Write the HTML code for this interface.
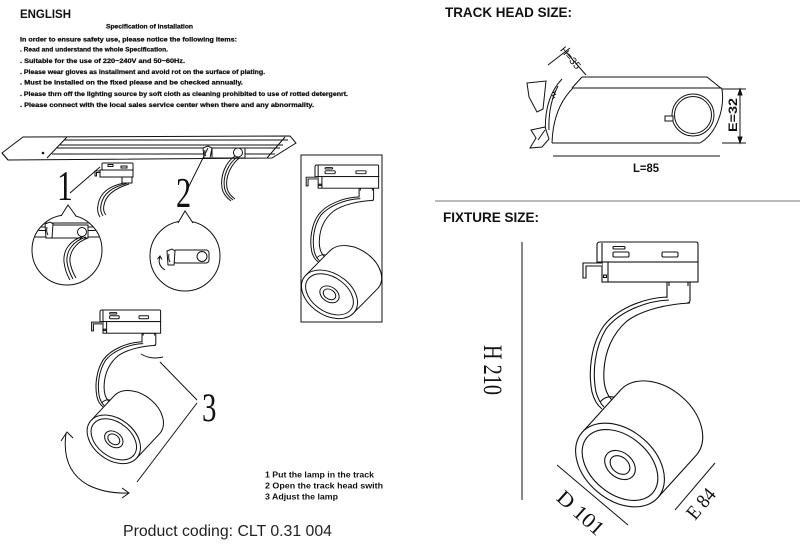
<!DOCTYPE html>
<html>
<head>
<meta charset="utf-8">
<style>
  html,body{margin:0;padding:0;background:#fff;}
  svg{display:block;}
</style>
</head>
<body>
<svg width="800" height="552" viewBox="0 0 800 552" xmlns="http://www.w3.org/2000/svg">
<defs>
  <g id="lamp" fill="none" stroke="#111">
    <!-- arm -->
    <path d="M70,55 C45,56 18,68 6,85 C-6,103 -9,130 -5,150 C-3,158 0,163 5,167" fill="none"/>
    <path d="M72,58 C47,59 21,71 9,87 C-2,105 -5,130 -1,150 C1,157 3,161 7,165" fill="none"/>
    <path d="M93,61 C70,62 45,68 30,79 C15,92 8,110 7,128 C6,142 9,152 15,158" fill="none"/>
    <!-- neck -->
    <path d="M70,40 H93 V58 Q93,61 90,61 M70,40 V56" fill="#fff"/>
    <path d="M72,40 V44 M91,40 V44"/>
    <!-- top box -->
    <path d="M3,0 H99 Q101,0 101,2 V20 H0 V3 Q0,0 3,0 Z" fill="#fff"/>
    <path d="M5,1 V20"/>
    <rect x="16" y="4.5" width="12" height="2.5" rx="1"/>
    <rect x="16" y="10" width="16" height="5" rx="1.2"/>
    <rect x="65" y="10" width="16" height="5" rx="1.2"/>
    <!-- lower box -->
    <rect x="5" y="20" width="96" height="20" fill="#fff"/>
    <path d="M11,20 V40"/>
    <rect x="6.5" y="33" width="3" height="2.5"/>
    <!-- hook -->
    <path d="M5,21 H-14 V36 H-11 V24 H5" fill="#fff"/>
    <!-- joint -->
    <path d="M3,160 Q10,152 20,156"/>
    <!-- cylinder -->
    <path d="M-14.7,190.2 L24.3,147.2 A50,35 40 0 1 99.7,212.8 L60.7,255.8 A50,35 40 0 1 -14.7,190.2 Z" fill="#fff"/>
    <ellipse cx="23" cy="223" rx="50" ry="35" transform="rotate(40 23 223)" fill="#fff"/>
    <ellipse cx="23" cy="223" rx="43" ry="29" transform="rotate(40 23 223)"/>
    <ellipse cx="23" cy="223" rx="17" ry="12.5" transform="rotate(40 23 223)"/>
    <ellipse cx="23" cy="223" rx="11" ry="8" transform="rotate(40 23 223)"/>
  </g>
  <clipPath id="c1"><circle cx="67" cy="250" r="34.5"/></clipPath>
  <clipPath id="c2"><circle cx="185" cy="256" r="34.5"/></clipPath>
</defs>

<rect width="800" height="552" fill="#fff"/>

<!-- ===== Top-left text ===== -->
<g font-family="'Liberation Sans', Arial, sans-serif" font-weight="bold" fill="#111">
  <text x="20" y="18" font-size="11.5" textLength="51" lengthAdjust="spacingAndGlyphs">ENGLISH</text>
  <g stroke="#111" stroke-width="0.25">
  <text x="106" y="28.5" font-size="6.5" textLength="87" lengthAdjust="spacingAndGlyphs">Specification of installation</text>
  <text x="20" y="41.5" font-size="6.5" textLength="217" lengthAdjust="spacingAndGlyphs">In order to ensure safety use, please notice the following items:</text>
  <text x="20" y="51.5" font-size="6.5" textLength="148" lengthAdjust="spacingAndGlyphs">. Read and understand the whole Specification.</text>
  <text x="20" y="63" font-size="6.5" textLength="165" lengthAdjust="spacingAndGlyphs">. Suitable for the use of 220~240V and 50~60Hz.</text>
  <text x="20" y="74" font-size="6.5" textLength="245" lengthAdjust="spacingAndGlyphs">. Please wear gloves as installment and avoid rot on the surface of plating.</text>
  <text x="20" y="84.5" font-size="6.5" textLength="223" lengthAdjust="spacingAndGlyphs">. Must be installed on the fixed please and be checked annually.</text>
  <text x="20" y="96" font-size="6.5" textLength="328" lengthAdjust="spacingAndGlyphs">. Please thrn off the lighting source by soft cloth as cleaning prohibited to use of rotted detergenrt.</text>
  <text x="20" y="107" font-size="6.5" textLength="294" lengthAdjust="spacingAndGlyphs">. Please connect with the local sales service center when there and any abnormality.</text>
  </g>
</g>

<!-- ===== Track ===== -->
<g fill="none" stroke="#111" stroke-width="1">
  <path d="M2,153 L23,137 L290,136 L296,143 L272,158 L8,160 Z" fill="#fff"/>
  <path d="M2,153 L8,160"/>
  <path d="M67,137 L47,158"/>
  <path d="M285,137 L267,158"/>
  <path d="M64,140 H288"/>
  <path d="M60,145 H283"/>
  <path d="M57,148 H280"/>
  <path d="M52,154 H275"/>
  <circle cx="43" cy="153" r="0.8" fill="#111"/>
  <!-- adapter 2 in track -->
  <path d="M203,148 L208,146 L212,148 L210,158 L204,158 Z" fill="#fff"/>
  <path d="M205,150 Q204,154 206,156"/>
  <rect x="212" y="148" width="33" height="10" fill="#fff"/>
  <circle cx="238" cy="152.5" r="4.5" fill="#fff"/>
  <path d="M235,156 C226,162 220,175 222,188 C223,194 227,198 231,201"/>
  <path d="M237.5,157 C228.5,163 222.5,176 224.5,188 C225.5,193 229,197 233,200"/>
  <path d="M240,157.5 C231,164 225,177 227,188 C228,193 231.5,196.5 235,199"/>
  <!-- line from 2 -->
  <path d="M188,188 L208,148"/>

  <!-- adapter 1 -->
  <rect x="102" y="163" width="31" height="7" rx="1" fill="#fff"/>
  <rect x="100" y="170" width="33" height="7" fill="#fff"/>
  <rect x="108" y="164.5" width="5" height="2" />
  <rect x="121" y="166" width="6" height="2"/>
  <path d="M100,171 H95 V176 H96.5 V172.5 H100"/>
  <rect x="122" y="177" width="10" height="6" fill="#fff"/>
  <path d="M124,183 C110,186 100,192 98,205 C97,210 98,214 100,217"/>
  <path d="M126.5,183.5 C113,187 103,193 101,205 C100,210 101,213 103,216"/>
  <path d="M129,184 C116,188 106,194 104,205 C103,210 104,212.5 106,215"/>
  <!-- line from 1 -->
  <path d="M70,193 L100,167"/>

  <!-- circle 1 -->
  <circle cx="67" cy="250" r="35" fill="#fff"/>
  <path d="M60.5,218 L68,205 L76.5,218 Z" fill="#fff" stroke="none"/>
  <path d="M61,216 L68,205 L76,216"/>
  <g clip-path="url(#c1)">
    <path d="M30,223 H105 M30,227 H105 M30,230.5 H105 M30,237 H105"/>
    <rect x="52" y="225" width="36" height="13" fill="#fff"/>
    <path d="M45,224 L50,222 L53,224 L52,238 L46,238 Z" fill="#fff"/>
    <path d="M47,227 Q46,232 48,235"/>
    <circle cx="82" cy="232" r="4.5" fill="#fff"/>
    <path d="M84,236 C70,240 63,250 64,262 C65,270 67,275 70,280"/>
    <path d="M86,237 C73,241 66,251 67,262 C68,269 70,274 73,279"/>
    <path d="M88,238 C76,242 69,252 70,262 C71,268 73,273 76,278"/>
  </g>

  <!-- circle 2 -->
  <circle cx="185" cy="256" r="35" fill="#fff"/>
  <path d="M177,224 L185,211 L194,224 Z" fill="#fff" stroke="none"/>
  <path d="M178,223 L185,211 L193,223"/>
  <g clip-path="url(#c2)">
    <rect x="173" y="250" width="36" height="13" rx="3" fill="#fff"/>
    <path d="M167,251 L172,249 L175,251 L174,265 L168,265 Z" fill="#fff"/>
    <path d="M169,254 Q168,259 170,262"/>
    <circle cx="202" cy="256.5" r="5" fill="#fff"/>
    <path d="M165,270 Q157,265 160,257"/>
    <path d="M157.5,259 L160,256 L162,259.5"/>
  </g>
</g>

<!-- numbers -->
<g font-family="'Liberation Serif', 'Times New Roman', serif" fill="#111">
  <text transform="translate(57,200) scale(0.75,1)" font-size="42">1</text>
  <text transform="translate(176,207) scale(0.72,1)" font-size="42">2</text>
  <text transform="translate(202,421) scale(0.72,1)" font-size="40">3</text>
</g>

<!-- framed lamp -->
<rect x="301" y="155" width="81" height="167" fill="none" stroke="#111" stroke-width="1"/>
<use href="#lamp" transform="translate(315,165) scale(0.63,0.58)" stroke-width="1.6"/>

<!-- bottom-left lamp -->
<use href="#lamp" transform="translate(100,310) scale(0.6,0.58)" stroke-width="1.7"/>
<g fill="none" stroke="#111" stroke-width="1">
  <path d="M197,400 L160,362"/>
  <path d="M197,403 L137,482"/>
  <path d="M141,354 Q151,360 163,357"/>
  <path d="M66,433 Q61,470 88,485 Q106,494 129,493"/>
  <path d="M61,441 L67,432 L73,438"/>
  <path d="M122,488 L129,493 L122,498"/>
</g>

<!-- instructions -->
<g font-family="'Liberation Sans', Arial, sans-serif" font-weight="bold" font-size="8" fill="#111">
  <text x="265" y="477.5" textLength="109" lengthAdjust="spacingAndGlyphs">1 Put the lamp in the track</text>
  <text x="265" y="488.5" textLength="118" lengthAdjust="spacingAndGlyphs">2 Open the track head swith</text>
  <text x="265" y="499.5" textLength="73" lengthAdjust="spacingAndGlyphs">3 Adjust the lamp</text>
</g>
<text x="123" y="536" font-family="'Liberation Sans', Arial, sans-serif" font-size="15.5" fill="#222" textLength="209" lengthAdjust="spacingAndGlyphs">Product coding: CLT 0.31 004</text>

<!-- ===== Right side ===== -->
<g font-family="'Liberation Sans', Arial, sans-serif" font-weight="bold" fill="#111">
  <text x="445" y="17" font-size="14" textLength="127" lengthAdjust="spacingAndGlyphs">TRACK HEAD SIZE:</text>
  <text x="443" y="222" font-size="14" textLength="96" lengthAdjust="spacingAndGlyphs">FIXTURE SIZE:</text>
  <text x="646" y="172" font-size="11.5" text-anchor="middle" textLength="26" lengthAdjust="spacingAndGlyphs">L=85</text>
  <text transform="translate(737,115) rotate(-90)" font-size="12" text-anchor="middle" textLength="34" lengthAdjust="spacingAndGlyphs">E=32</text>
  <text transform="translate(568,60) rotate(50)" font-size="10" text-anchor="middle" font-weight="normal" textLength="26" lengthAdjust="spacingAndGlyphs">H=35</text>
</g>
<line x1="435" y1="201" x2="800" y2="201" stroke="#777" stroke-width="1"/>

<!-- track head -->
<g fill="none" stroke="#111" stroke-width="1">
  <path d="M582,77 H707 L722,89"/>
  <path d="M573,88 H722"/>
  <path d="M722,89 C725,110 716,134 700,143"/>
  <path d="M552,143 H700"/>
  <path d="M573,88 Q553,108 552,143"/>
  <path d="M582,77 L572,88"/>
  <path d="M562,79 Q542,100 546,140"/>
  <path d="M558,86 Q548,105 549,130"/>
  <path d="M553,93 L556,91 M552,96 L556,94 M552,99 L555,97"/>
  <path d="M527,83 L546,81 L543,109 L537,112 L529,97 Z" fill="#fff"/>
  <path d="M531,130 L545,127 L549,139 L542,147 L530,148 L536,138 Z" fill="#fff"/>
  <path d="M538,140 L545,130"/>
  <circle cx="693" cy="115" r="21"/>
  <circle cx="693" cy="115" r="18.5"/>
  <rect x="665" y="116" width="8" height="5" fill="#fff"/>
  <!-- dims -->
  <path d="M722,89 H746 M722,143 H746"/>
  <path d="M740,89 V143"/>
  <path d="M740,89 L738,95 L742,95 Z M740,143 L738,137 L742,137 Z" fill="#111"/>
  <path d="M553,156 H720"/>
  <path d="M548,65 L570,48"/>
  <path d="M566,52 L586,75"/>
</g>

<!-- fixture -->
<use href="#lamp" transform="translate(597,242)" stroke-width="1.1"/>
<g fill="none" stroke="#111" stroke-width="1">
  <path d="M522,242 V500"/>
  <path d="M557,465 L628,525"/>
  <path d="M715,463 L675,510"/>
</g>
<g font-family="'Liberation Serif', 'Times New Roman', serif" fill="#111">
  <text transform="translate(484,370) rotate(90)" font-size="26" text-anchor="middle" textLength="50" lengthAdjust="spacingAndGlyphs">H 210</text>
  <text transform="translate(576,518) rotate(42)" font-size="21" text-anchor="middle" textLength="56" lengthAdjust="spacingAndGlyphs">D 101</text>
  <text transform="translate(706,508) rotate(-50)" font-size="20" text-anchor="middle" textLength="34" lengthAdjust="spacingAndGlyphs">E 84</text>
</g>
</svg>
</body>
</html>
